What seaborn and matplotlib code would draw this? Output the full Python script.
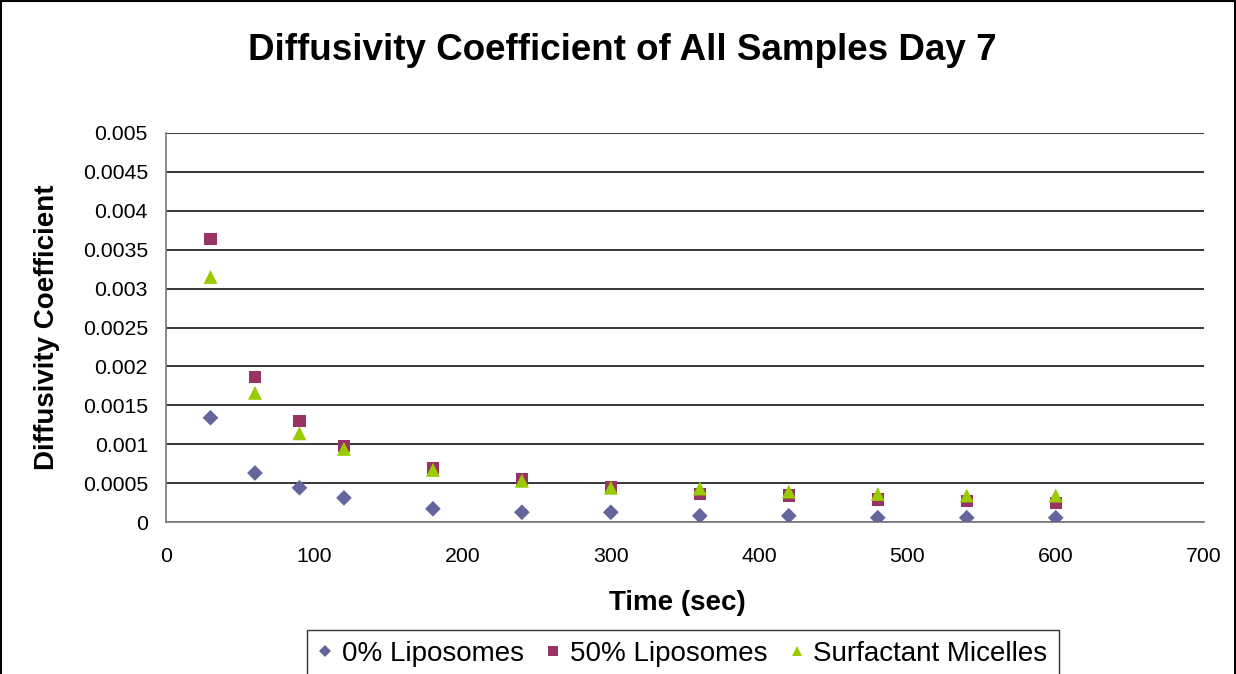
import matplotlib
matplotlib.use("Agg")
import matplotlib.pyplot as plt
from matplotlib.lines import Line2D
import seaborn as sns
import pandas as pd

# Measurement times (sec)
time_sec = [30, 60, 90, 120, 180, 240, 300, 360, 420, 480, 540, 600]

# Diffusivity coefficient for each sample
lipo_0 = [0.00134, 0.00063, 0.00044, 0.00031, 0.00017, 0.000125, 0.000125,
          0.00008, 0.00008, 0.000055, 0.000055, 0.000055]
lipo_50 = [0.00364, 0.00186, 0.00130, 0.00098, 0.00069, 0.00055, 0.00045,
           0.00036, 0.00034, 0.00029, 0.00027, 0.00024]
micelles = [0.00315, 0.00166, 0.00114, 0.00094, 0.00067, 0.00053, 0.00044,
            0.00043, 0.00039, 0.00036, 0.00034, 0.00034]

series_names = ["0% Liposomes", "50% Liposomes", "Surfactant Micelles"]
x_ticks = [0, 100, 200, 300, 400, 500, 600, 700]
y_ticks = [0, 0.0005, 0.001, 0.0015, 0.002, 0.0025, 0.003, 0.0035, 0.004, 0.0045, 0.005]
y_tick_labels = ["0", "0.0005", "0.001", "0.0015", "0.002", "0.0025", "0.003",
                 "0.0035", "0.004", "0.0045", "0.005"]

df = pd.DataFrame({
    "Time": time_sec * 3,
    "D": lipo_0 + lipo_50 + micelles,
    "Sample": [series_names[0]] * len(time_sec)
              + [series_names[1]] * len(time_sec)
              + [series_names[2]] * len(time_sec),
})

colors = {series_names[0]: "#65659E",
          series_names[1]: "#993366",
          series_names[2]: "#99CC00"}
markers = {series_names[0]: "D", series_names[1]: "s", series_names[2]: "^"}
sizes = {series_names[0]: 64, series_names[1]: 78, series_names[2]: 100}

sns.set_theme(style="white")
plt.rcParams["font.family"] = ["Liberation Sans", "DejaVu Sans"]
plt.rcParams["text.color"] = "black"
plt.rcParams["axes.labelcolor"] = "black"
plt.rcParams["xtick.color"] = "black"
plt.rcParams["ytick.color"] = "black"

W, H = 1236, 674
fig = plt.figure(figsize=(W / 100, H / 100), dpi=100)
ax = fig.add_axes([166 / W, 1 - 522 / H, (1204 - 166) / W, (522 - 133) / H])

for name in series_names:
    sub = df[df["Sample"] == name]
    sns.scatterplot(data=sub, x="Time", y="D", ax=ax, color=colors[name],
                    marker=markers[name], s=sizes[name], linewidth=0,
                    edgecolor="none", legend=False, zorder=3)

ax.set_xlim(0, 700)
ax.set_ylim(0, 0.005)
ax.set_xticks(x_ticks)
ax.set_xticklabels([str(t) for t in x_ticks], fontsize=15.3)
ax.set_yticks(y_ticks)
ax.set_yticklabels(y_tick_labels, fontsize=15.3)
ax.set_xlabel("")
ax.set_ylabel("")

ax.grid(axis="y", color="black", linewidth=1.1)
ax.grid(axis="x", visible=False)
ax.set_axisbelow(True)
for side in ("top", "right"):
    ax.spines[side].set_visible(False)
for side in ("left", "bottom"):
    ax.spines[side].set_color("#808080")
    ax.spines[side].set_linewidth(1.3)
ax.tick_params(axis="y", direction="out", length=7, width=1.1,
               color="#808080", pad=6, labelcolor="black")
ax.tick_params(axis="x", direction="out", length=6, width=1.1,
               color="#808080", pad=12, labelcolor="black")

fig.text(677 / W, 1 - 603 / H, "Time (sec)", ha="center", va="center",
         fontsize=20, fontweight="bold")
fig.text(47 / W, 1 - 327 / H, "Diffusivity Coefficient", ha="center",
         va="center", rotation=90, fontsize=20, fontweight="bold")
fig.text(622 / W, 1 - 51 / H, "Diffusivity Coefficient of All Samples Day 7",
         ha="center", va="center", fontsize=26.5, fontweight="bold")

handles = [Line2D([], [], linestyle="none", marker=markers[n], color=colors[n],
                  markersize={"D": 6, "s": 6.5, "^": 7.5}[markers[n]],
                  markeredgewidth=0) for n in series_names]
leg = fig.legend(handles, series_names, loc="center", ncol=3,
                 bbox_to_anchor=(683 / W, 1 - 654 / H),
                 fontsize=20, frameon=True, fancybox=False,
                 handlelength=0.5, handletextpad=0.35, columnspacing=0.8,
                 borderpad=0.4)
leg.get_frame().set_edgecolor("black")
leg.get_frame().set_linewidth(1.0)

# Outer chart border
for xs, ys in (([0.001, 0.999], [0.998, 0.998]),
               ([0.001, 0.001], [0.0, 0.998]),
               ([0.999, 0.999], [0.0, 0.998])):
    fig.add_artist(Line2D(xs, ys, transform=fig.transFigure, color="black", linewidth=1.5))

fig.savefig("out.png", dpi=100)
